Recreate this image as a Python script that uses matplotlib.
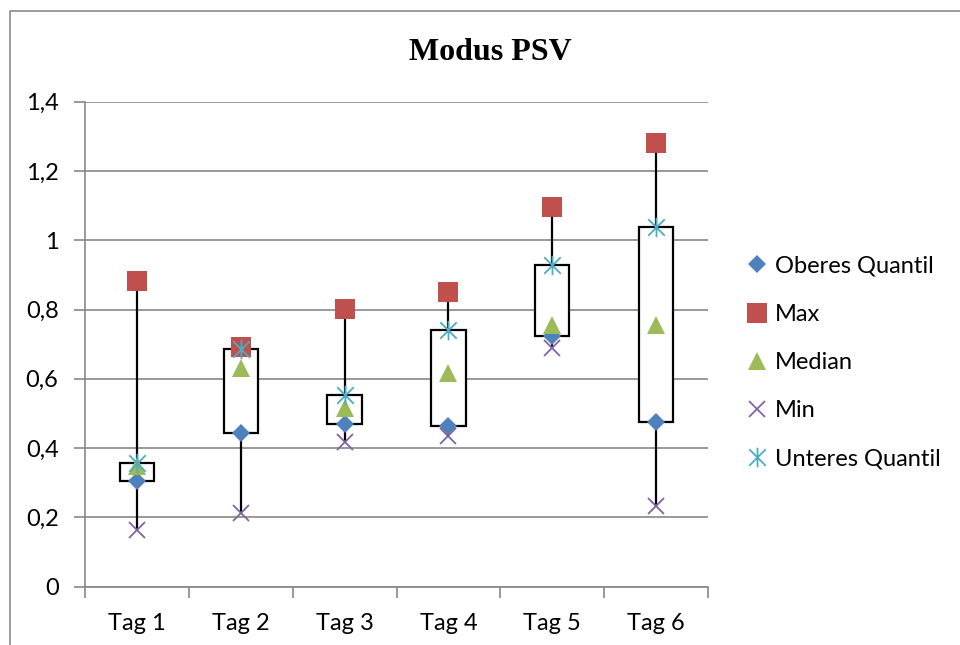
import numpy as np
import matplotlib
matplotlib.use('Agg')
import matplotlib.pyplot as plt
from matplotlib.path import Path
from matplotlib.lines import Line2D

plt.rcParams['font.family'] = ['Lato', 'DejaVu Sans']

# ------------------------------------------ data
tags = ['Tag 1', 'Tag 2', 'Tag 3', 'Tag 4', 'Tag 5', 'Tag 6']
oberes_quantil = [0.305, 0.443, 0.469, 0.463, 0.723, 0.474]
max_vals = [0.881, 0.693, 0.801, 0.850, 1.095, 1.282]
median_vals = [0.347, 0.632, 0.517, 0.618, 0.755, 0.755]
min_vals = [0.165, 0.213, 0.419, 0.435, 0.688, 0.233]
unteres_quantil = [0.358, 0.685, 0.552, 0.740, 0.929, 1.038]
yticks = [0, 0.2, 0.4, 0.6, 0.8, 1.0, 1.2, 1.4]
ytick_labels = ['0', '0,2', '0,4', '0,6', '0,8', '1', '1,2', '1,4']

# ------------------------------------------ styles
grid_c = '#878787'
colors = ['#4F81BD', '#C0504D', '#9BBB59', '#8064A2', '#4BACC6']
asterisk = Path([(-0.85, -0.85), (0.85, 0.85), (-0.85, 0.85), (0.85, -0.85), (0, -1), (0, 1)],
                [Path.MOVETO, Path.LINETO, Path.MOVETO, Path.LINETO, Path.MOVETO, Path.LINETO])

fig = plt.figure(figsize=(9.6, 6.45), dpi=100)
ax = fig.add_axes([85 / 960, 1 - 586.7 / 645, (708 - 85) / 960, (586.7 - 101.7) / 645])

x = np.arange(1, len(tags) + 1)
lo = np.minimum(oberes_quantil, unteres_quantil)
hi = np.maximum(oberes_quantil, unteres_quantil)

# whiskers + boxes
ax.vlines(x, min_vals, max_vals, color='black', lw=1.6, zorder=2)
ax.bar(x, hi - lo, bottom=lo, width=0.33, facecolor='white', edgecolor='black', lw=1.6, zorder=3)

# marker series (same order as legend -> later ones on top)
ax.plot(x, oberes_quantil, ls='none', marker='D', ms=9, color=colors[0], mew=0, zorder=4, label='Oberes Quantil')
ax.plot(x, max_vals, ls='none', marker='s', ms=14, color=colors[1], mew=0, zorder=5, label='Max')
ax.plot(x, median_vals, ls='none', marker='^', ms=13.5, color=colors[2], mew=0, zorder=6, label='Median')
ax.plot(x, min_vals, ls='none', marker='x', ms=11.5, color=colors[3], mew=1.3, zorder=7, label='Min')
ax.plot(x, unteres_quantil, ls='none', marker=asterisk, ms=14, mfc='none', mec=colors[4], mew=1.3,
        zorder=8, label='Unteres Quantil')

# axes
ax.set_xlim(0.5, len(tags) + 0.5)
ax.set_ylim(0, 1.4)
ax.set_yticks(yticks)
ax.set_yticklabels(ytick_labels)
ax.set_xticks(np.arange(0.5, len(tags) + 1))
ax.set_xticklabels([])
ax.set_xticks(x, minor=True)
ax.set_xticklabels(tags, minor=True)
ax.tick_params(axis='x', which='major', length=8, width=1.2, color=grid_c, direction='out')
ax.tick_params(axis='x', which='minor', length=0, pad=19, labelsize=17)
ax.tick_params(axis='y', length=8, width=1.2, color=grid_c, pad=11, labelsize=17)
ax.yaxis.grid(True, color=grid_c, lw=1.2)
ax.set_axisbelow(True)
for s in ['top', 'right']:
    ax.spines[s].set_visible(False)
for s in ['left', 'bottom']:
    ax.spines[s].set_color(grid_c)
    ax.spines[s].set_linewidth(1.2)

fig.text(490 / 960, 1 - 52 / 645, 'Modus PSV', ha='center', va='center',
         family='Liberation Serif', weight='bold', fontsize=23)

ax.legend(loc='center left', bbox_to_anchor=(745 / 960, 1 - 362.5 / 645), bbox_transform=fig.transFigure,
          frameon=False, fontsize=17, handlelength=1.0, handletextpad=0.25, labelspacing=1.15,
          borderpad=0, borderaxespad=0)

# outer chart frame (only left/top visible in the crop)
fig.add_artist(Line2D([9.5 / 960, 9.5 / 960, 1.0], [0, 1 - 11 / 645, 1 - 11 / 645],
                      transform=fig.transFigure, color='#8a8a8a', lw=1.2))

fig.savefig('out.png', dpi=100)
